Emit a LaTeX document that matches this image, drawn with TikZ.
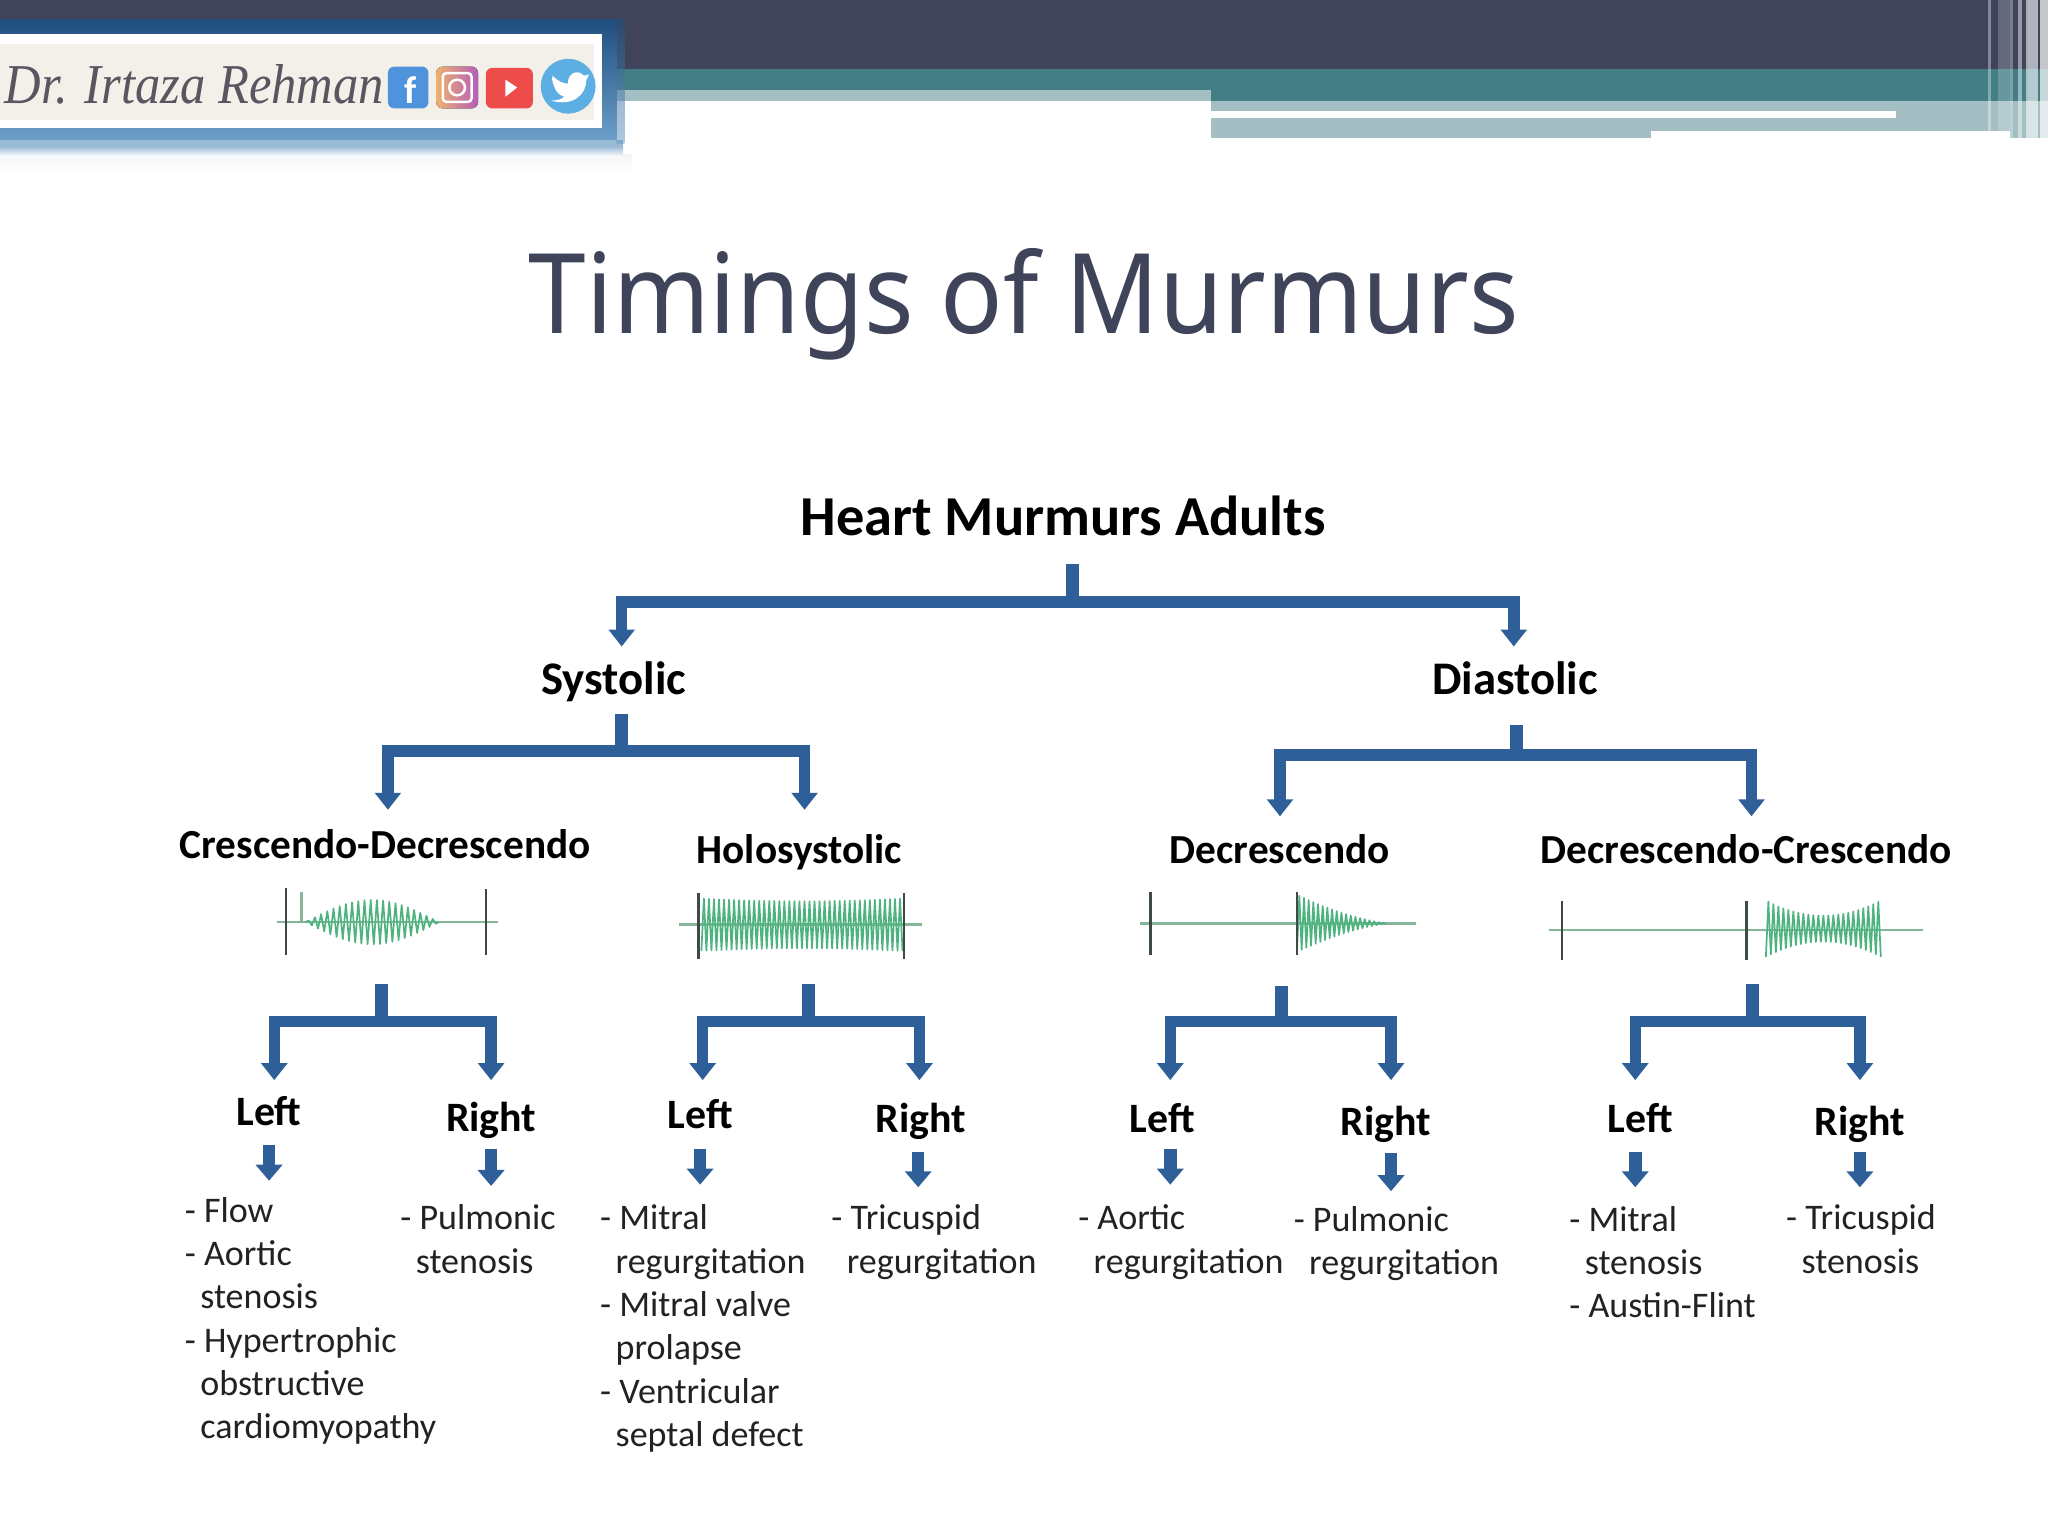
\documentclass[tikz,border=0pt]{standalone}
\usepackage{fontspec}
\setmainfont{Carlito}
\newfontfamily\titlefont[FakeStretch=0.93]{Noto Sans}
\newfontfamily\logofont[FakeStretch=0.9]{Liberation Serif}
\usetikzlibrary{arrows.meta}
\definecolor{navy}{HTML}{40445A}
\definecolor{teal1}{HTML}{437E86}
\definecolor{teal2}{HTML}{A3BFC4}
\definecolor{barblue}{HTML}{2E5F99}
\definecolor{wavegreen}{HTML}{4FB380}
\definecolor{basegreen}{HTML}{86B69A}
\definecolor{tickdark}{HTML}{3E4A48}
\definecolor{bodytext}{HTML}{222222}
\definecolor{shadowtop}{HTML}{1F4E7D}
\definecolor{shadowlow}{HTML}{6B9EC8}
\definecolor{shadowfade}{HTML}{9ABBD6}
\definecolor{cream}{HTML}{F3F0E9}
\definecolor{logoink}{HTML}{5C5460}
\definecolor{fbblue}{HTML}{4F93DC}
\definecolor{ytred}{HTML}{EE4B4B}
\definecolor{twblue}{HTML}{5DAEE3}
\definecolor{igorange}{HTML}{EFB070}
\definecolor{igviolet}{HTML}{B45EB8}
\tikzset{
  x=0.0130612cm,y=-0.0130612cm,
  forkline/.style={draw=barblue,line width=0.115cm,miter limit=10,{Triangle[width=0.255cm,length=0.17cm]}-{Triangle[width=0.255cm,length=0.17cm]}},
  stemline/.style={draw=barblue,line width=0.13cm},
  smallarrow/.style={draw=barblue,line width=0.125cm,-{Triangle[width=0.26cm,length=0.16cm]}},
  headtext/.style={inner sep=0,anchor=base,font=\fontsize{11.75pt}{15pt}\selectfont\bfseries,text=black},
  toptext/.style={inner sep=0,anchor=base,font=\fontsize{16.05pt}{18pt}\selectfont\bfseries,text=black},
  midtext/.style={inner sep=0,anchor=base,font=\fontsize{13.3pt}{16pt}\selectfont\bfseries,text=black},
  sidetext/.style={inner sep=0,anchor=base,font=\fontsize{11.9pt}{15pt}\selectfont\bfseries,text=black},
  listtext/.style={inner sep=0,anchor=north west,align=left,text=bodytext,font=\fontsize{10.25pt}{12.33pt}\selectfont},
  wave/.style={draw=wavegreen,line width=0.017cm,line join=round},
  baseln/.style={draw=basegreen,line width=0.025cm},
  tick/.style={draw=tickdark,line width=0.026cm},
}
\newcommand{\fork}[7]{%
  \coordinate (#1s) at (#2,#3);
  \coordinate (#1j) at (#2,#4);
  \coordinate (#1l) at (#5,#7);
  \coordinate (#1r) at (#6,#7);
  \draw[stemline] (#1s) -- (#1j);
  \draw[forkline] (#1l) |- (#1j) -| (#1r);
}
\newcommand{\dn}[4]{%
  \coordinate (#1a) at (#2,#3);
  \coordinate (#1b) at (#2,#4);
  \draw[smallarrow] (#1a) -- (#1b);
}
\newcommand{\hy}{\hspace*{4.4pt}}
\begin{document}
\begin{tikzpicture}
\useasboundingbox (0,0) rectangle (1568,1176);
\fill[white] (0,0) rectangle (1568,1176);
% header bands
\fill[navy] (0,0) rectangle (1568,53);
\fill[teal1] (470,53) rectangle (1568,77);
\fill[teal2] (470,69) rectangle (927,77);
\fill[teal2] (927,77) rectangle (1568,106);
\fill[white] (927,85) rectangle (1452,90);
\fill[white] (1264,100) rectangle (1539,106);
\fill[white,opacity=.35] (1522,0) rectangle (1524,100);
\fill[white,opacity=.2] (1530,0) rectangle (1539,100);
\fill[white,opacity=.3] (1539,0) rectangle (1541,106);
\fill[white,opacity=.45] (1545,0) rectangle (1548,106);
\fill[white,opacity=.55] (1551,0) rectangle (1553,106);
\fill[white,opacity=.6] (1553,0) rectangle (1560,106);
\fill[white,opacity=.7] (1562,0) rectangle (1568,106);
% logo banner
\shade[top color=black!4,bottom color=white] (0,118) rectangle (484,132);
\shade[top color=shadowfade,bottom color=white] (0,112) rectangle (477,120);
\fill[shadowfade] (0,107) rectangle (477,112);
\shade[top color=shadowtop,bottom color=shadowlow,opacity=.55] (472,15) rectangle (478,110);
\shade[top color=shadowtop,bottom color=shadowlow] (0,15) rectangle (472,107);
\fill[white] (0,26) rectangle (461,98);
\fill[cream] (0,34) rectangle (455,92);
\node[inner sep=0,anchor=base west,text=logoink,font=\fontsize{16pt}{18pt}\selectfont\logofont\itshape] (logo) at (3,79) {Dr. Irtaza Rehman};
\fill[rounded corners=1.8pt,fill=fbblue] (297,51) rectangle (328,83);
\node[inner sep=0,text=white,font=\fontsize{11pt}{12pt}\selectfont\bfseries] (fb) at (314,69) {f};
\fill[rounded corners=1.8pt,left color=igorange,right color=igviolet] (334,51) rectangle (366,83);
\draw[white,line width=0.025cm,rounded corners=1pt] (339,56) rectangle (361,78);
\draw[white,line width=0.025cm] (350,67) circle[radius=6];
\fill[rounded corners=1.8pt,fill=ytred] (372,52) rectangle (408,83);
\fill[white] (387,61) -- (396,67) -- (387,74) -- cycle;
\fill[twblue] (435,66) circle[radius=21];
\fill[white] (423,58) .. controls (428,63) and (432,64) .. (435,64) .. controls (434,57) and (442,52) .. (447,58) -- (451,57) -- (449,61) .. controls (449,72) and (439,82) .. (422,77) .. controls (427,77) and (430,76) .. (432,74) .. controls (428,73) and (426,70) .. (425,68) .. controls (424,65) and (422,62) .. (423,58) -- cycle;
% title
\node[inner sep=0,anchor=base,text=navy,font=\fontsize{31.65pt}{38pt}\selectfont\titlefont] (title) at (784,255) {Timings of Murmurs};
% headings
\node[toptext] (root) at (814,410) {Heart Murmurs Adults};
\node[midtext] (sys) at (470,532) {Systolic};
\node[midtext] (dia) at (1160,532) {Diastolic};
\node[headtext] (cd) at (295,657) {Crescendo-Decrescendo};
\node[headtext] (hs) at (612,661) {Holosystolic};
\node[headtext] (de) at (980,661) {Decrescendo};
\node[headtext] (dc) at (1337,661) {Decrescendo-Crescendo};
% forks
\fork{f0}{821}{432}{461}{476}{1159}{495}
\fork{f1}{476}{547}{575}{297}{616}{620}
\fork{f2}{1161}{555}{578}{980}{1341}{625}
\fork{f3}{292}{753}{782}{210}{376}{827}
\fork{f4}{619}{753}{782}{538}{704}{827}
\fork{f5}{981}{755}{782}{896}{1065}{827}
\fork{f6}{1342}{753}{782}{1252}{1424}{827}
% waveforms
\draw[baseln] (212,706) -- (381,706);
\draw[baseln] (231,683) -- (231,706);
\draw[wave] plot[samples=44,domain=0:43] ({234+\x*2.372},{706+17*sin(\x/43*180)*cos(\x*180)});
\draw[tick] (219,680) -- (219,731);
\draw[tick] (372,681) -- (372,731);
\draw[baseln] (520,708) -- (706,708);
\draw[wave] plot[samples=81,domain=0:80] ({537+\x*1.925},{708+(18+0.00035*(\x*1.925-77)*(\x*1.925-77))*cos(\x*180)});
\draw[tick] (535,684) -- (535,734);
\draw[tick] (692,684) -- (692,734);
\draw[baseln] (873,707) -- (1084,707);
\draw[wave] plot[samples=39,domain=0:38] ({993+\x*1.79},{707+(22*(1-\x/38)*(0.5+0.5*(1-\x/38)))*cos(\x*180)});
\draw[tick] (881,683) -- (881,731);
\draw[tick] (993,683) -- (993,731);
\draw[baseln] (1186,712) -- (1472,712);
\draw[wave] plot[samples=47,domain=0:46] ({1352+\x*1.913},{711+(10+0.006*(\x*1.913-44)*(\x*1.913-44))*cos(\x*180)});
\draw[tick] (1196,690) -- (1196,735);
\draw[tick] (1337,690) -- (1337,735);
% left/right labels
\node[sidetext] (l1) at (206,862) {Left};
\node[sidetext] (r1) at (376,866) {Right};
\node[sidetext] (l2) at (536,864) {Left};
\node[sidetext] (r2) at (705,867) {Right};
\node[sidetext] (l3) at (890,867) {Left};
\node[sidetext] (r3) at (1061,869) {Right};
\node[sidetext] (l4) at (1256,867) {Left};
\node[sidetext] (r4) at (1424,869) {Right};
\dn{a1}{206}{877}{904}
\dn{a2}{376}{880}{908}
\dn{a3}{536}{880}{907}
\dn{a4}{703}{882}{909}
\dn{a5}{896}{880}{907}
\dn{a6}{1065}{883}{912}
\dn{a7}{1252}{882}{909}
\dn{a8}{1424}{882}{909}
% lists
\node[listtext] (t1) at (141,916) {- Flow\\- Aortic\\\hy stenosis\\- Hypertrophic\\\hy obstructive\\\hy cardiomyopathy};
\node[listtext] (t2) at (306,922) {- Pulmonic\\\hy stenosis};
\node[listtext] (t3) at (459,922) {- Mitral\\\hy regurgitation\\- Mitral valve\\\hy prolapse\\- Ventricular\\\hy septal defect};
\node[listtext] (t4) at (636,922) {- Tricuspid\\\hy regurgitation};
\node[listtext] (t5) at (825,922) {- Aortic\\\hy regurgitation};
\node[listtext] (t6) at (990,923) {- Pulmonic\\\hy regurgitation};
\node[listtext] (t7) at (1201,923) {- Mitral\\\hy stenosis\\- Austin-Flint};
\node[listtext] (t8) at (1367,922) {- Tricuspid\\\hy stenosis};
\end{tikzpicture}
\end{document}
